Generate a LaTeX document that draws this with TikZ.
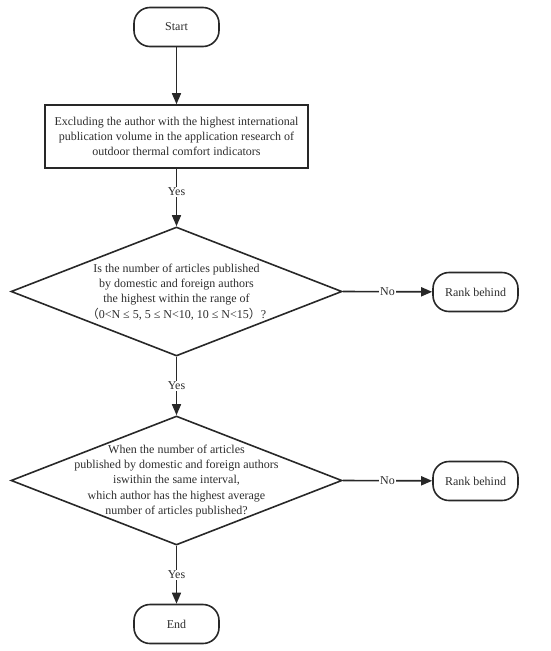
\documentclass[tikz,border=0pt]{standalone}
\usepackage{fontspec}
\setmainfont{Liberation Serif}
\newfontfamily\cjk{Noto Sans CJK SC}
\usetikzlibrary{shapes.geometric,arrows.meta}
\definecolor{ink}{RGB}{40,40,40}
\definecolor{txt}{RGB}{45,45,45}
\tikzset{
  every node/.style={font=\fontsize{12}{15.2}\selectfont, text=txt},
  term/.style={draw=ink, line width=1.6pt, rounded corners=16pt, minimum width=85pt, minimum height=39pt, inner sep=0pt},
  procbox/.style={draw=ink, line width=1.6pt, minimum width=263pt, minimum height=63pt, inner sep=0pt, align=center},
  decide/.style={draw=ink, line width=1.6pt, diamond, minimum width=331pt, minimum height=129pt, inner sep=0pt, aspect=2.57},
  conn/.style={draw=ink, line width=1.6pt, -{Triangle[length=11pt,width=9pt]}},
  lbl/.style={fill=white, inner sep=1pt}
}
\begin{document}
\begin{tikzpicture}[x=1pt,y=-1pt]
\useasboundingbox (0,0) rectangle (550,651);
\node[term] (start) at (176.5,27) {Start};
\node[procbox] (box) at (176.5,136.5) {Excluding the author with the highest international\\publication volume in the application research of\\outdoor thermal comfort indicators};
\node[decide] (d1) at (176.5,291.5) {};
\node[align=center] (t1) at (176.5,292) {Is the number of articles published\\by domestic and foreign authors\\the highest within the range of\\{\cjk （}0<N ≤ 5, 5 ≤ N<10, 10 ≤ N<15{\cjk ）}?};
\node[term] (r1) at (475.5,292) {Rank behind};
\node[decide] (d2) at (176.5,480.5) {};
\node[align=center] (t2) at (176.5,481) {When the number of articles\\published by domestic and foreign authors\\iswithin the same interval,\\which author has the highest average\\number of articles published?};
\node[term] (r2) at (475.5,481) {Rank behind};
\node[term] (end) at (176.5,624) {End};
\draw[conn] (start) -- (box);
\draw[conn] (box) -- node[lbl, pos=0.4] (y1) {Yes} (d1.north);
\draw[conn] (d1.east) -- node[lbl] (n1) {No} (r1);
\draw[conn] (d1.south) -- node[lbl] (y2) {Yes} (d2.north);
\draw[conn] (d2.east) -- node[lbl] (n2) {No} (r2);
\draw[conn] (d2.south) -- node[lbl] (y3) {Yes} (end);
\end{tikzpicture}
\end{document}
